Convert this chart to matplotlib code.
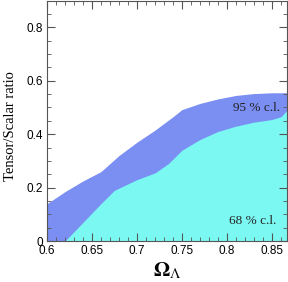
import numpy as np
import matplotlib
matplotlib.use("Agg")
import matplotlib.pyplot as plt
from matplotlib.ticker import MultipleLocator

# -------------------------------
# Data
# -------------------------------
omega95 = [0.600, 0.620, 0.640, 0.660, 0.680, 0.700, 0.720, 0.740, 0.750, 0.770, 0.790, 0.810, 0.830, 0.850, 0.867]
r95 = [0.140, 0.185, 0.225, 0.260, 0.320, 0.370, 0.415, 0.465, 0.492, 0.515, 0.532, 0.545, 0.552, 0.555, 0.555]

omega68 = [0.600, 0.620, 0.640, 0.660, 0.675, 0.700, 0.720, 0.735, 0.750, 0.770, 0.790, 0.810, 0.830, 0.850, 0.860, 0.867]
r68 = [0.000, 0.000, 0.070, 0.140, 0.190, 0.230, 0.255, 0.290, 0.340, 0.380, 0.410, 0.430, 0.445, 0.455, 0.465, 0.490]

xticks = [0.6, 0.65, 0.7, 0.75, 0.8, 0.85]
xtick_labels = ["0.6", "0.65", "0.7", "0.75", "0.8", "0.85"]
yticks = [0, 0.2, 0.4, 0.6, 0.8]
ytick_labels = ["0", "0.2", "0.4", "0.6", "0.8"]

plt.rcParams["mathtext.fontset"] = "stix"

fig = plt.figure(figsize=(2.88, 2.82), dpi=100)
ax = fig.add_axes([0.163, 0.145, 0.834, 0.853])

ax.fill_between(omega95, 0, r95, color="#7b8ef2", lw=0)
ax.fill_between(omega68, 0, r68, color="#7cf8f2", lw=0)

ax.set_xlim(0.6, 0.867)
ax.set_ylim(0, 0.9)

ax.set_xticks(xticks)
ax.set_xticklabels(xtick_labels, family="Liberation Sans", fontsize=8.5)
ax.set_yticks(yticks)
ax.set_yticklabels(ytick_labels, family="Liberation Sans", fontsize=8.5)
ax.xaxis.set_minor_locator(MultipleLocator(0.01))
ax.yaxis.set_minor_locator(MultipleLocator(0.05))
ax.tick_params(which="both", direction="in", top=True, right=True, color="#555555")
ax.tick_params(which="major", length=6, width=0.8, pad=3)
ax.tick_params(which="minor", length=3, width=0.6)
for s in ax.spines.values():
    s.set_color("#555555")
    s.set_linewidth(0.8)

ax.set_ylabel("Tensor/Scalar ratio", family="Liberation Serif", fontsize=10.5)
ax.yaxis.set_label_coords(-0.125, 0.48)
ax.set_xlabel(r"$\mathbf{\Omega}_{\Lambda}$", fontsize=15, labelpad=2)

ax.text(0.833, 0.497, "95 % c.l.", family="Liberation Serif", fontsize=9.5,
        ha="center", va="center", color="#222222")
ax.text(0.829, 0.075, "68 % c.l.", family="Liberation Serif", fontsize=9.5,
        ha="center", va="center", color="#222222")

fig.savefig("out.png", dpi=100)
